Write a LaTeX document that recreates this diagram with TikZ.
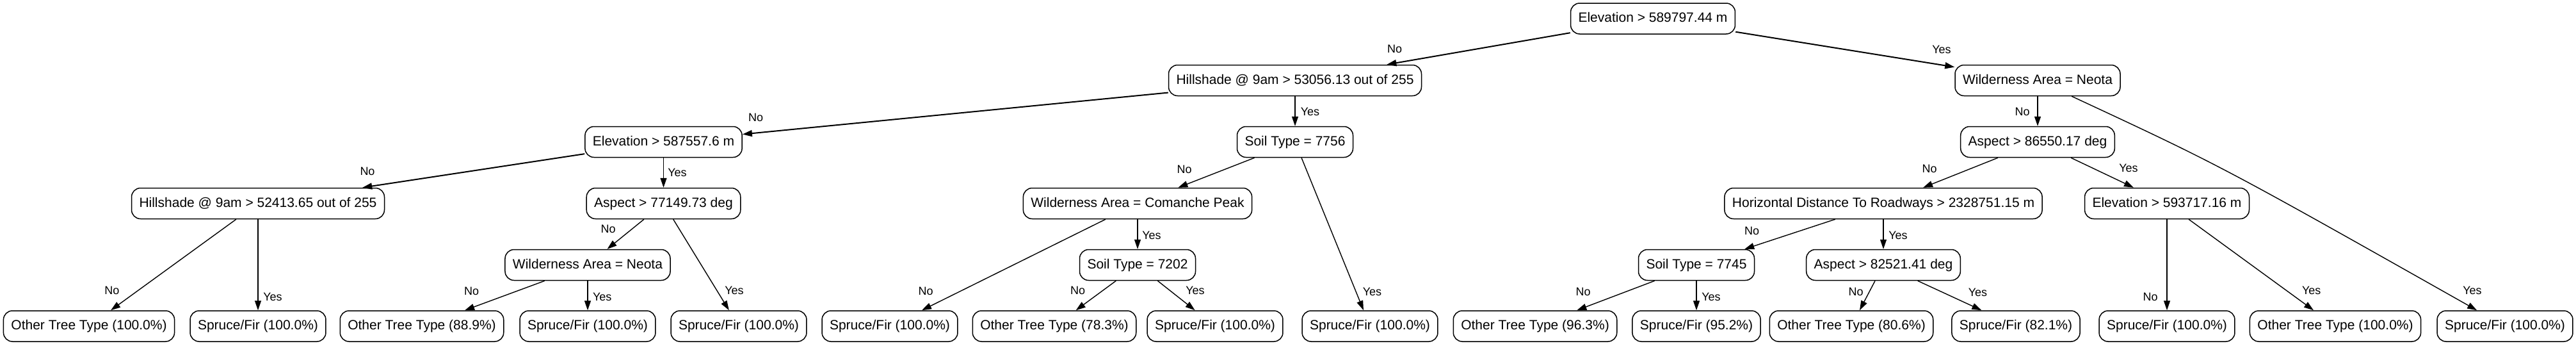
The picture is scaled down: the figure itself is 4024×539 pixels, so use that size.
\documentclass[tikz,border=0pt]{standalone}
\usepackage{fontspec}
\setmainfont{Liberation Sans}
\usetikzlibrary{arrows.meta}

\tikzset{
	box/.style={draw, line width=1.5pt, rounded corners=14pt, minimum height=48pt,
		inner xsep=12pt, inner ysep=0pt, text height=15.5pt, text depth=4.5pt,
		font=\fontsize{21}{25}\selectfont},
	lbl/.style={inner sep=0pt, font=\fontsize{18}{22}\selectfont},
	heavy/.style={line width=2pt}
}

\begin{document}
\begin{tikzpicture}[x=1pt, y=-1pt, >={Triangle[length=15pt,width=10pt]},
	every edge/.style={draw, line width=1.4pt}]
	\useasboundingbox (0,0) rectangle (4024,539);

	% splits
	\node[box] (root) at (2582,29) {Elevation > 589797.44 m};
	\node[box] (hillA) at (2023,125.5) {Hillshade @ 9am > 53056.13 out of 255};
	\node[box] (wildA) at (3183,125.5) {Wilderness Area = Neota};
	\node[box] (elevB) at (1036.5,221.5) {Elevation > 587557.6 m};
	\node[box] (soilB) at (2023,221.5) {Soil Type = 7756};
	\node[box] (aspB) at (3183,221.5) {Aspect > 86550.17 deg};
	\node[box] (hillC) at (403,317.5) {Hillshade @ 9am > 52413.65 out of 255};
	\node[box] (aspC) at (1036.5,317.5) {Aspect > 77149.73 deg};
	\node[box] (wildC) at (1777,317.5) {Wilderness Area = Comanche Peak};
	\node[box] (horC) at (2942,317.5) {Horizontal Distance To Roadways > 2328751.15 m};
	\node[box] (elevC) at (3385,317.5) {Elevation > 593717.16 m};
	\node[box] (wildD) at (918,413.5) {Wilderness Area = Neota};
	\node[box] (soilD) at (1777,413.5) {Soil Type = 7202};
	\node[box] (soilE) at (2650,413.5) {Soil Type = 7745};
	\node[box] (aspD) at (2942,413.5) {Aspect > 82521.41 deg};

	% leaves
	\node[box] (leafA) at (139,509) {Other Tree Type (100.0\%)};
	\node[box] (leafB) at (403,509) {Spruce/Fir (100.0\%)};
	\node[box] (leafC) at (659,509) {Other Tree Type (88.9\%)};
	\node[box] (leafD) at (918,509) {Spruce/Fir (100.0\%)};
	\node[box] (leafE) at (1154,509) {Spruce/Fir (100.0\%)};
	\node[box] (leafF) at (1390,509) {Spruce/Fir (100.0\%)};
	\node[box] (leafG) at (1647,509) {Other Tree Type (78.3\%)};
	\node[box] (leafH) at (1898,509) {Spruce/Fir (100.0\%)};
	\node[box] (leafI) at (2140,509) {Spruce/Fir (100.0\%)};
	\node[box] (leafJ) at (2398,509) {Other Tree Type (96.3\%)};
	\node[box] (leafK) at (2650,509) {Spruce/Fir (95.2\%)};
	\node[box] (leafL) at (2892,509) {Other Tree Type (80.6\%)};
	\node[box] (leafM) at (3149,509) {Spruce/Fir (82.1\%)};
	\node[box] (leafN) at (3385,509) {Spruce/Fir (100.0\%)};
	\node[box] (leafO) at (3648,509) {Other Tree Type (100.0\%)};
	\node[box] (leafP) at (3913,509) {Spruce/Fir (100.0\%)};

	\coordinate (bendP) at (3468,258);

	\path[->]
	(root) edge[heavy] (hillA)
	(root) edge[heavy] (wildA)
	(hillA) edge[heavy] (elevB)
	(hillA) edge (soilB)
	(wildA) edge (aspB)
	(elevB) edge[heavy] (hillC)
	(elevB) edge (aspC)
	(soilB) edge (wildC)
	(soilB) edge (leafI)
	(aspB) edge (horC)
	(aspB) edge (elevC)
	(hillC) edge (leafA)
	(hillC) edge (leafB)
	(aspC) edge (wildD)
	(aspC) edge (leafE)
	(wildC) edge (leafF)
	(wildC) edge (soilD)
	(horC) edge (soilE)
	(horC) edge (aspD)
	(elevC) edge (leafN)
	(elevC) edge (leafO)
	(wildD) edge (leafC)
	(wildD) edge (leafD)
	(soilD) edge (leafG)
	(soilD) edge (leafH)
	(soilE) edge (leafJ)
	(soilE) edge (leafK)
	(aspD) edge (leafL)
	(aspD) edge (leafM)
	;
	\draw[->, line width=1.4pt] (wildA) .. controls (bendP) .. (leafP);

	% branch labels
	\node[lbl] (rootNo) at (2178.6,76) {No};
	\node[lbl] (rootYes) at (3033,77) {Yes};
	\node[lbl] (hillANo) at (1180.5,183) {No};
	\node[lbl] (hillAYes) at (2046.5,174) {Yes};
	\node[lbl] (wildANo) at (3159,174) {No};
	\node[lbl] (wildAYes) at (3862,453) {Yes};
	\node[lbl] (elevBNo) at (574,267) {No};
	\node[lbl] (elevBYes) at (1058,269) {Yes};
	\node[lbl] (soilBNo) at (1850,264) {No};
	\node[lbl] (soilBYes) at (2143.5,455) {Yes};
	\node[lbl] (aspBNo) at (3014,263) {No};
	\node[lbl] (aspBYes) at (3325,262) {Yes};
	\node[lbl] (hillCNo) at (175,453) {No};
	\node[lbl] (hillCYes) at (426,463) {Yes};
	\node[lbl] (aspCNo) at (950,357) {No};
	\node[lbl] (aspCYes) at (1147,453) {Yes};
	\node[lbl] (wildCNo) at (1446,454) {No};
	\node[lbl] (wildCYes) at (1799,367) {Yes};
	\node[lbl] (horCNo) at (2736.6,360) {No};
	\node[lbl] (horCYes) at (2965,367) {Yes};
	\node[lbl] (elevCNo) at (3359,463) {No};
	\node[lbl] (elevCYes) at (3610.7,453) {Yes};
	\node[lbl] (wildDNo) at (736.6,454) {No};
	\node[lbl] (wildDYes) at (940.7,463) {Yes};
	\node[lbl] (soilDNo) at (1683.7,453) {No};
	\node[lbl] (soilDYes) at (1867,453) {Yes};
	\node[lbl] (soilENo) at (2473,455) {No};
	\node[lbl] (soilEYes) at (2673,463) {Yes};
	\node[lbl] (aspDNo) at (2899,455) {No};
	\node[lbl] (aspDYes) at (3089.5,456) {Yes};
\end{tikzpicture}
\end{document}
